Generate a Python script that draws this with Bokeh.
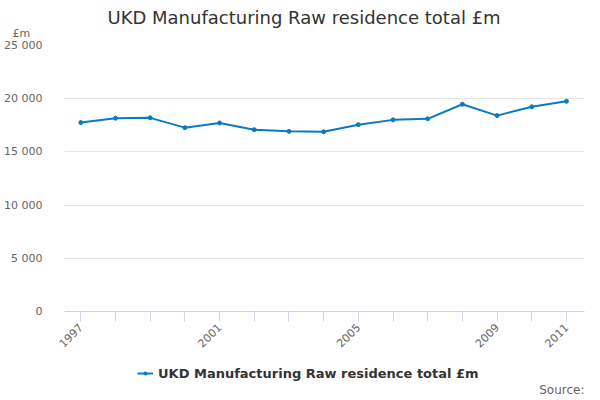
import numpy as np
from bokeh.plotting import figure
from bokeh.models import Range1d, FixedTicker, Title, Legend, LegendItem, Label
from bokeh.layouts import column
from bokeh.embed import file_html
from bokeh.resources import INLINE

# data
years = list(range(1997, 2012))
values = [17760, 18170, 18200, 17280, 17720, 17090, 16930, 16890,
          17560, 18010, 18110, 19480, 18410, 19240, 19760]
y_ticks = [0, 5000, 10000, 15000, 20000, 25000]
x_label_years = [1997, 2001, 2005, 2009, 2011]
series_name = "UKD Manufacturing Raw residence total £m"
title_text = "UKD Manufacturing Raw residence total £m"

FONT = "DejaVu Sans"
BLUE = "#0a7ac4"

p = figure(width=600, height=360,
           x_range=Range1d(1996.53, 2011.52),
           y_range=Range1d(0, 25000),
           output_backend="svg",
           toolbar_location=None,
           min_border_left=64, min_border_right=16,
           min_border_top=45, min_border_bottom=49)
p.outline_line_color = None

# y axis: labels only, space as thousands separator
p.yaxis.ticker = FixedTicker(ticks=y_ticks)
p.yaxis.major_label_overrides = {t: f"{t:,}".replace(",", " ") for t in y_ticks}
p.yaxis.axis_line_color = None
p.yaxis.major_tick_line_color = None
p.yaxis.minor_tick_line_color = None
p.yaxis.major_label_text_font = FONT
p.yaxis.major_label_text_font_size = "11px"
p.yaxis.major_label_text_color = "#666666"
p.yaxis.major_label_standoff = 16
p.ygrid.ticker = FixedTicker(ticks=y_ticks)
p.ygrid.grid_line_color = "#e6e6e6"
p.xgrid.grid_line_color = None

# x axis: tick every year, label only some
p.xaxis.ticker = FixedTicker(ticks=years)
p.xaxis.major_label_overrides = {y: (str(y) if y in x_label_years else "") for y in years}
p.xaxis.major_label_orientation = np.pi / 4
p.xaxis.axis_line_color = "#ccd6eb"
p.xaxis.major_tick_line_color = "#ccd6eb"
p.xaxis.major_tick_out = 10
p.xaxis.major_tick_in = 0
p.xaxis.minor_tick_line_color = None
p.xaxis.major_label_text_font = FONT
p.xaxis.major_label_text_font_size = "11px"
p.xaxis.major_label_text_color = "#666666"
p.xaxis.major_label_standoff = 4

p.line(years, values, line_color=BLUE, line_width=2)
p.scatter(years, values, size=4, fill_color=BLUE, line_color=BLUE)

# unit label first (next to frame), then the main title above it
# negative standoff lets the big title sit a bit lower, close to the unit label
p.add_layout(Title(text="£m", align="left", offset=-52, standoff=11,
                   text_font=FONT, text_font_size="11px", text_color="#666666",
                   text_font_style="normal"), "above")
p.add_layout(Title(text=title_text, align="left", offset=43, standoff=-17,
                   text_font=FONT, text_font_size="18px", text_color="#333333",
                   text_font_style="normal"), "above")

# strip below the chart for legend and source note
# (its frame lines up with the chart frame, so x is counted from x=64)
f = figure(width=600, height=40, x_range=Range1d(0, 1), y_range=Range1d(0, 1),
           output_backend="svg", toolbar_location=None,
           x_axis_location=None, y_axis_location=None,
           min_border_left=0, min_border_right=0,
           min_border_top=0, min_border_bottom=0)
f.outline_line_color = None
f.grid.grid_line_color = None
# same series, out of this strip's view; only used for the legend swatch
lg_ln = f.line(years, values, line_color=BLUE, line_width=2)
lg_sc = f.scatter(years, values, size=4, fill_color=BLUE, line_color=BLUE)

legend = Legend(items=[LegendItem(label=series_name, renderers=[lg_ln, lg_sc])],
                location=(73, 19), orientation="horizontal",
                border_line_color=None, background_fill_alpha=0,
                padding=0, margin=0, glyph_width=16, glyph_height=8,
                label_standoff=5, label_height=16,
                label_text_font=FONT, label_text_font_size="13px",
                label_text_font_style="bold", label_text_color="#333333")
f.add_layout(legend)
f.add_layout(Label(x=520, y=11, x_units="screen", y_units="screen", text="Source:",
                   text_font=FONT, text_font_size="12px", text_color="#666666",
                   text_align="right", text_baseline="middle"))

open("out.html", "w").write(file_html(column(p, f, spacing=0), INLINE))
